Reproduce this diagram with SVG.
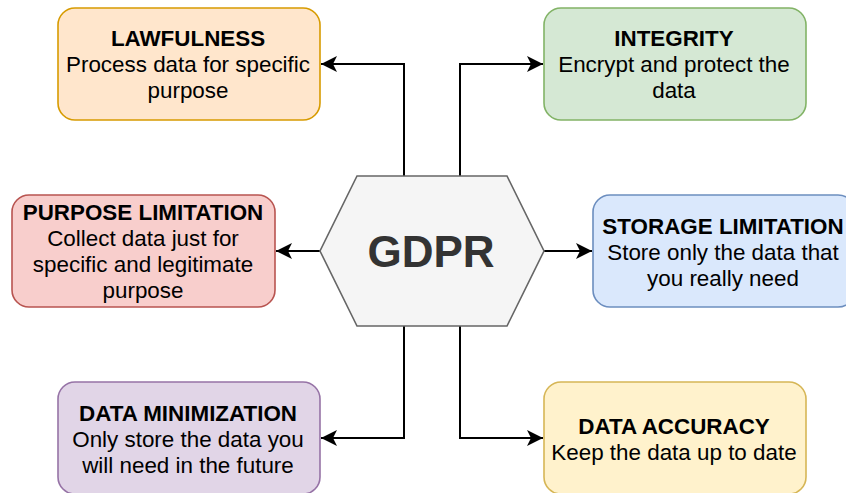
<svg xmlns="http://www.w3.org/2000/svg" width="846" height="493" viewBox="0 0 846 493">
<style>
.box{stroke-width:1.6}
.t{font-family:"Liberation Sans",Arial,sans-serif;font-size:22.4px;fill:#000;text-anchor:middle}
.b{font-weight:bold}
.c{fill:none;stroke:#000;stroke-width:2;marker-end:url(#arr)}
</style>
<defs>
<marker id="arr" markerUnits="userSpaceOnUse" markerWidth="20" markerHeight="20" viewBox="-16 -10 20 20" refX="0" refY="0" orient="auto">
<path d="M0,0 L-16,-8 L-12,0 L-16,8 Z" fill="#000"/>
</marker>
</defs>
<rect width="846" height="493" fill="#fff"/>
<g id="connectors">
<path class="c" d="M404,176 V64 H321"/>
<path class="c" d="M460,176 V64 H543"/>
<path class="c" d="M320,251 H276"/>
<path class="c" d="M544,251 H592"/>
<path class="c" d="M404,326 V438 H321"/>
<path class="c" d="M460,326 V438 H543"/>
</g>
<g id="gdpr">
<polygon points="357,176 507,176 544,251 507,326 357,326 320,251" fill="#f5f5f5" stroke="#666666" stroke-width="1.6"/>
<text x="431" y="267" font-family="Liberation Sans,Arial,sans-serif" font-size="44" font-weight="bold" fill="#333333" text-anchor="middle">GDPR</text>
</g>
<g id="lawfulness">
<rect class="box" x="58" y="8" width="262" height="112" rx="17" fill="#ffe6cc" stroke="#d79b00"/>
<text class="t b" x="188" y="46">LAWFULNESS</text>
<text class="t" x="188" y="72">Process data for specific</text>
<text class="t" x="188" y="98">purpose</text>
</g>
<g id="integrity">
<rect class="box" x="544" y="8" width="262" height="112" rx="17" fill="#d5e8d4" stroke="#82b366"/>
<text class="t b" x="674" y="46">INTEGRITY</text>
<text class="t" x="674" y="72">Encrypt and protect the</text>
<text class="t" x="674" y="98">data</text>
</g>
<g id="purpose-limitation">
<rect class="box" x="12" y="195" width="263" height="112" rx="17" fill="#f8cecc" stroke="#b85450"/>
<text class="t b" x="143" y="220">PURPOSE LIMITATION</text>
<text class="t" x="143" y="246">Collect data just for</text>
<text class="t" x="143" y="272">specific and legitimate</text>
<text class="t" x="143" y="298">purpose</text>
</g>
<g id="storage-limitation">
<rect class="box" x="593" y="195" width="262" height="112" rx="17" fill="#dae8fc" stroke="#6c8ebf"/>
<text class="t b" x="723" y="234">STORAGE LIMITATION</text>
<text class="t" x="723" y="260">Store only the data that</text>
<text class="t" x="723" y="286">you really need</text>
</g>
<g id="data-minimization">
<rect class="box" x="58" y="382" width="262" height="112" rx="17" fill="#e1d5e7" stroke="#9673a6"/>
<text class="t b" x="188" y="421">DATA MINIMIZATION</text>
<text class="t" x="188" y="447">Only store the data you</text>
<text class="t" x="188" y="473">will need in the future</text>
</g>
<g id="data-accuracy">
<rect class="box" x="544" y="382" width="262" height="112" rx="17" fill="#fff2cc" stroke="#d6b656"/>
<text class="t b" x="674" y="434">DATA ACCURACY</text>
<text class="t" x="674" y="460">Keep the data up to date</text>
</g>
</svg>
